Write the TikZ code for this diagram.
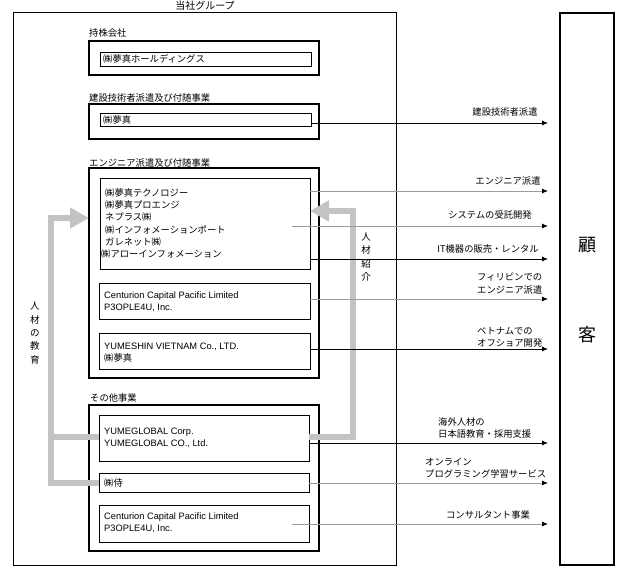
\documentclass[tikz,border=0pt]{standalone}
\usepackage{fontspec}
\setmainfont{Liberation Sans}
\newfontfamily\jpfont{Noto Sans CJK JP}
\usetikzlibrary{arrows.meta}
\definecolor{thinGray}{RGB}{155,155,155}
\definecolor{fatGray}{RGB}{195,195,195}
\begin{document}
\begin{tikzpicture}[x=1pt,y=-1pt,
  boxbase/.style={draw, outer sep=0pt, inner sep=0pt, anchor=north west},
  grpbox/.style={boxbase, line width=1pt},
  custbox/.style={boxbase, line width=1.3pt},
  secbox/.style={boxbase, line width=1.8pt},
  inbox/.style={boxbase, line width=0.9pt},
  jp/.style={font=\jpfont\fontsize{9.3}{12.4}\selectfont, inner sep=0pt, align=left},
  en/.style={font=\fontsize{9.3}{12}\selectfont, inner sep=0pt, align=left},
  vlabel/.style={font=\jpfont\fontsize{9.5}{13.4}\selectfont, inner sep=0pt, align=center},
  svc/.style={line width=0.8pt, shorten >=12pt, -{Latex[length=6pt,width=5pt,color=black]}},
  svcblack/.style={svc, draw=black},
  svcgray/.style={svc, draw=thinGray},
  flow/.style={draw=fatGray, line width=6pt, line join=miter, line cap=butt},
  flowarrow/.style={flow, -{Triangle[length=19pt,width=20pt]}}
]
\useasboundingbox (0,0) rectangle (630,580);

% frames
\node[grpbox, minimum width=383pt, minimum height=552pt] (grp) at (13,13) {};
\node[font=\jpfont\fontsize{10}{12}\selectfont, inner sep=0pt] (grptitle) at (205,6) {当社グループ};
\node[custbox, minimum width=54pt, minimum height=552pt] (cust) at (560,13) {};
\node[font=\jpfont\fontsize{18}{90}\selectfont, inner sep=0pt, align=center] (custtext) at (587,290) {顧\\客};

% holding
\node[jp, anchor=west] (lhold) at (89,33) {持株会社};
\node[secbox, minimum width=230pt, minimum height=34pt] (hold) at (89,41) {};
\node[inbox, minimum width=211pt, minimum height=14pt] (holdin) at (100,52) {};
\node[jp, anchor=west] (tholdin) at (103,59) {㈱夢真ホールディングス};

% construction
\node[jp, anchor=west] (lken) at (89,98) {建設技術者派遣及び付随事業};
\node[secbox, minimum width=230pt, minimum height=35pt] (ken) at (89,104) {};
\node[inbox, minimum width=211pt, minimum height=13pt] (kenin) at (100,113) {};
\node[jp, anchor=west] (tkenin) at (103,120) {㈱夢真};

% engineer
\node[jp, anchor=west] (leng) at (89,163) {エンジニア派遣及び付随事業};
\node[secbox, minimum width=230pt, minimum height=210pt] (eng) at (89,168) {};
\node[inbox, minimum width=210pt, minimum height=91pt] (ein1) at (100,178) {};
\node[jp, anchor=west, font=\jpfont\fontsize{9.3}{12.2}\selectfont] (tein1) at (105,223.5) {㈱夢真テクノロジー\\㈱夢真プロエンジ\\ネプラス㈱\\㈱インフォメーションポート\\ガレネット㈱\\\hspace*{-4pt}㈱アローインフォメーション};
\node[inbox, minimum width=211pt, minimum height=36pt] (ein2) at (99,283) {};
\node[en, anchor=west] (tein2) at (104,302) {Centurion Capital Pacific Limited\\P3OPLE4U, Inc.};
\node[inbox, minimum width=211pt, minimum height=36pt] (ein3) at (99,333) {};
\node[en, anchor=west] (tein3) at (104,352.5) {YUMESHIN VIETNAM Co., LTD.\\{\jpfont ㈱夢真}};

% others
\node[jp, anchor=west] (loth) at (90,398) {その他事業};
\node[secbox, minimum width=230pt, minimum height=146pt] (oth) at (89,405) {};
\node[inbox, minimum width=210pt, minimum height=46pt] (yg) at (99,415) {};
\node[en, anchor=west] (tyg) at (104,437.5) {YUMEGLOBAL Corp.\\YUMEGLOBAL CO., Ltd.};
\node[inbox, minimum width=210pt, minimum height=19pt] (sam) at (99,473) {};
\node[jp, anchor=west] (tsam) at (104,482.5) {㈱侍};
\node[inbox, minimum width=210pt, minimum height=37pt] (cen) at (99,505) {};
\node[en, anchor=west] (tcen) at (104,523) {Centurion Capital Pacific Limited\\P3OPLE4U, Inc.};

% thick gray flows
\draw[flowarrow] (sam.west) -- (51,482.5) -- (51,218) -- (eng.west |- 0,218);
\draw[flow] (yg.west |- 0,437) -- (51,437);
\draw[flowarrow] (yg.east |- 0,437) -- (353,437) -- (353,211) -- (ein1.east |- 0,211);
\node[vlabel] (lintro) at (366,257) {人\\材\\紹\\介};
\node[vlabel] (ledu) at (35,333) {人\\材\\の\\教\\育};

% service arrows
\draw[svcblack] (kenin.east |- 0,123) -- (cust.west |- 0,123);
\node[jp] (lsv1) at (505,112) {建設技術者派遣};
\draw[svcgray] (ein1.east |- 0,191) -- (cust.west |- 0,191);
\node[jp] (lsv2) at (508,181) {エンジニア派遣};
\draw[svcgray] ([xshift=-18pt]ein1.east |- 0,226) -- (cust.west |- 0,226);
\node[jp] (lsv3) at (490,215) {システムの受託開発};
\draw[svcblack] (ein1.east |- 0,259) -- (cust.west |- 0,259);
\node[jp] (lsv4) at (488,249) {IT機器の販売・レンタル};
\draw[svcgray] (ein2.east |- 0,299) -- (cust.west |- 0,299);
\node[jp, anchor=west] (lsv5) at (477,283.5) {フィリピンでの\\エンジニア派遣};
\draw[svcblack] (ein3.east |- 0,349) -- (cust.west |- 0,349);
\node[jp, anchor=west] (lsv6) at (477,337) {ベトナムでの\\オフショア開発};
\draw[svcblack] (yg.east |- 0,443) -- (cust.west |- 0,443);
\node[jp, anchor=west] (lsv7) at (438,428) {海外人材の\\日本語教育・採用支援};
\draw[svcgray] (sam.east |- 0,483) -- (cust.west |- 0,483);
\node[jp, anchor=west] (lsv8) at (425,468) {オンライン\\プログラミング学習サービス};
\draw[svcgray] ([xshift=-17pt]cen.east |- 0,524) -- (cust.west |- 0,524);
\node[jp] (lsv9) at (488,515) {コンサルタント事業};
\end{tikzpicture}
\end{document}
